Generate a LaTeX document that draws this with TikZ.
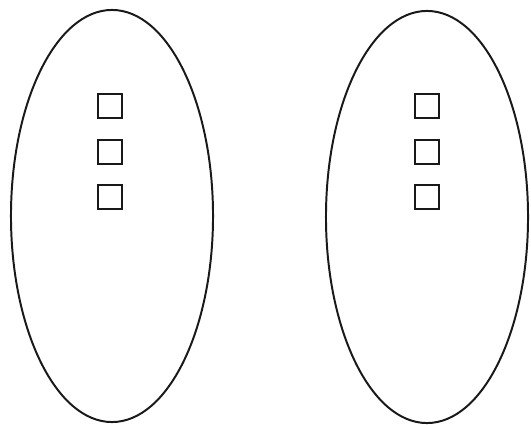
\documentclass[tikz,border=0pt]{standalone}
\usepackage{tikz}
\usetikzlibrary{shapes.geometric}
\tikzset{
  grp/.style={ellipse,draw=black!90,line width=1.4pt,inner sep=0pt,
    minimum width=5.05cm,minimum height=10.3cm},
  elm/.style={rectangle,draw=black!90,line width=1.3pt,inner sep=0pt,
    minimum size=0.58cm}
}
\begin{document}
\begin{tikzpicture}[x=0.025cm,y=-0.025cm]
  \useasboundingbox (0,0) rectangle (531,425);
  \node[grp] (left) at (112,216) {};
  \node[grp] (right) at (427,217) {};
  \node[elm] (l1) at (110,106) {};
  \node[elm] (l2) at (110,152) {};
  \node[elm] (l3) at (110,197) {};
  \node[elm] (r1) at (427,106) {};
  \node[elm] (r2) at (427,152) {};
  \node[elm] (r3) at (427,197) {};
\end{tikzpicture}
\end{document}
